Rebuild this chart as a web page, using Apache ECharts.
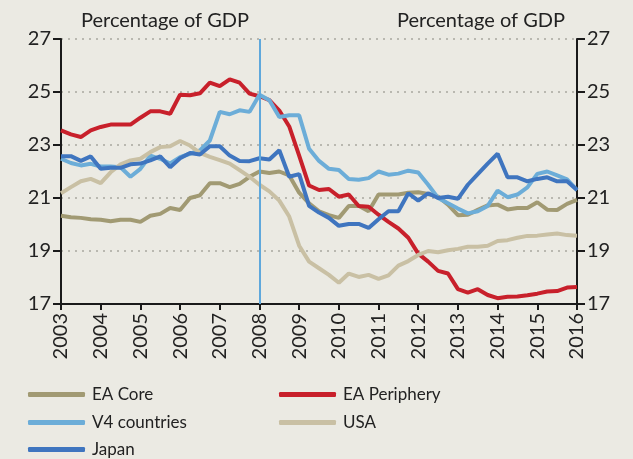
<!DOCTYPE html>
<html>
<head>
<meta charset="utf-8">
<style>
  html, body { margin: 0; padding: 0; background: #ebeae3; }
  #chart { width: 633px; height: 459px; }
</style>
<script src="https://cdn.jsdelivr.net/npm/echarts@6/dist/echarts.min.js"></script>
</head>
<body>
<div id="chart"></div>
<script>
// quarterly, 2003Q1 .. 2016Q1
const quarters = [
  "2003Q1","2003Q2","2003Q3","2003Q4","2004Q1","2004Q2","2004Q3","2004Q4",
  "2005Q1","2005Q2","2005Q3","2005Q4","2006Q1","2006Q2","2006Q3","2006Q4",
  "2007Q1","2007Q2","2007Q3","2007Q4","2008Q1","2008Q2","2008Q3","2008Q4",
  "2009Q1","2009Q2","2009Q3","2009Q4","2010Q1","2010Q2","2010Q3","2010Q4",
  "2011Q1","2011Q2","2011Q3","2011Q4","2012Q1","2012Q2","2012Q3","2012Q4",
  "2013Q1","2013Q2","2013Q3","2013Q4","2014Q1","2014Q2","2014Q3","2014Q4",
  "2015Q1","2015Q2","2015Q3","2015Q4","2016Q1"
];

const eaCore = [20.33,20.27,20.25,20.2,20.18,20.12,20.18,20.18,20.1,20.33,20.4,20.62,20.55,21.0,
  21.1,21.56,21.56,21.41,21.53,21.8,22.0,21.94,22.0,21.85,21.2,20.8,20.5,
  20.35,20.25,20.7,20.71,20.5,21.13,21.13,21.13,21.2,21.22,21.15,21.05,20.75,20.35,
  20.37,20.55,20.72,20.75,20.57,20.62,20.62,20.84,20.56,20.55,20.78,20.93];

const eaPeriphery = [23.55,23.4,23.3,23.55,23.68,23.77,23.77,23.77,24.03,24.27,24.27,24.18,24.9,24.88,
  24.95,25.35,25.22,25.48,25.35,24.94,24.84,24.69,24.3,23.7,22.6,21.47,21.3,
  21.34,21.05,21.13,20.7,20.67,20.37,20.1,19.85,19.5,18.9,18.6,18.25,18.15,17.56,
  17.43,17.56,17.34,17.22,17.27,17.28,17.33,17.39,17.47,17.49,17.62,17.64];

const v4 = [22.48,22.32,22.23,22.29,22.19,22.19,22.16,21.8,22.1,22.6,22.48,22.3,22.54,22.67,
  22.8,23.17,24.25,24.16,24.31,24.25,24.9,24.69,24.06,24.12,24.12,22.86,22.4,
  22.1,22.06,21.72,21.69,21.75,22.0,21.88,21.92,22.03,21.96,21.5,21.0,20.8,20.6,
  20.42,20.5,20.7,21.28,21.03,21.13,21.4,21.91,22.0,21.85,21.7,21.3];

const usa = [21.18,21.41,21.63,21.72,21.56,21.97,22.27,22.42,22.48,22.73,22.92,22.95,23.15,22.98,
  22.7,22.55,22.43,22.3,22.05,21.8,21.5,21.25,20.9,20.3,19.2,18.6,18.35,
  18.1,17.8,18.15,18.02,18.1,17.95,18.08,18.45,18.62,18.85,19.0,18.95,19.03,19.08,
  19.16,19.16,19.2,19.38,19.41,19.5,19.57,19.58,19.62,19.66,19.6,19.58];

const japan = [22.58,22.58,22.4,22.57,22.1,22.14,22.14,22.27,22.3,22.42,22.57,22.16,22.5,22.7,
  22.64,22.95,22.95,22.6,22.4,22.39,22.5,22.45,22.8,21.8,21.9,20.7,20.45,
  20.25,19.95,20.02,20.02,19.87,20.2,20.5,20.5,21.18,20.9,21.18,21.0,21.05,20.97,
  21.5,21.9,22.3,22.67,21.78,21.78,21.63,21.72,21.78,21.63,21.63,21.3];

const yTicks = [17, 19, 21, 23, 25, 27];
const markQuarter = "2008Q1";

const font = "Lato";
const textColor = "#222222";
const axisColor = "#1a1a1a";

function line(name, data, color) {
  return {
    name: name,
    type: "line",
    data: data,
    showSymbol: false,
    symbol: "none",
    lineStyle: { color: color, width: 4 },
    itemStyle: { color: color },
    animation: false,
  };
}

const series = [
  line("EA Core", eaCore, "#a19a73"),
  line("EA Periphery", eaPeriphery, "#c8202b"),
  line("V4 countries", v4, "#6cadd8"),
  line("USA", usa, "#c9c0a4"),
  line("Japan", japan, "#3f75bf"),
];
series[4].markLine = {
  silent: true,
  symbol: "none",
  label: { show: false },
  lineStyle: { color: "#5fa8dc", width: 2, type: "solid" },
  data: [{ xAxis: markQuarter }],
};

function yAxis(pos) {
  return {
    type: "value",
    position: pos,
    min: yTicks[0],
    max: yTicks[yTicks.length - 1],
    interval: 2,
    axisLine: { show: true, lineStyle: { color: axisColor, width: 2 } },
    axisTick: { show: true, length: 8, lineStyle: { color: axisColor, width: 2 } },
    axisLabel: { color: textColor, fontFamily: font, fontSize: 20, margin: 10 },
    splitLine: {
      show: pos === "left",
      lineStyle: { color: "#b9b8b0", width: 2, type: [2, 5] },
    },
  };
}

// one legend per entry so the two columns line up
function legendItem(name, left, top) {
  return {
    data: [name],
    left: left,
    top: top,
    itemWidth: 57,
    itemHeight: 5,
    icon: "roundRect",
    textStyle: { color: textColor, fontFamily: font, fontSize: 17, padding: [0, 0, 0, 2] },
  };
}

const option = {
  backgroundColor: "#ebeae3",
  animation: false,
  title: [
    { text: "Percentage of GDP", left: 76, top: 6,
      textStyle: { color: textColor, fontFamily: font, fontSize: 20, fontWeight: "normal" } },
    { text: "Percentage of GDP", left: 392, top: 6,
      textStyle: { color: textColor, fontFamily: font, fontSize: 20, fontWeight: "normal" } },
  ],
  grid: { left: 61, right: 56, top: 39, bottom: 155 },
  xAxis: {
    type: "category",
    data: quarters,
    boundaryGap: false,
    axisLine: { lineStyle: { color: axisColor, width: 2 } },
    axisTick: { interval: 3, length: 6, lineStyle: { color: axisColor, width: 2 } },
    axisLabel: {
      interval: 3,
      rotate: 90,
      margin: 9,
      color: textColor,
      fontFamily: font,
      fontSize: 20,
      formatter: (v) => v.slice(0, 4),
    },
    splitLine: { show: false },
  },
  yAxis: [yAxis("left"), yAxis("right")],
  legend: [
    legendItem("EA Core", 23, 381),
    legendItem("EA Periphery", 274, 381),
    legendItem("V4 countries", 23, 409),
    legendItem("USA", 274, 409),
    legendItem("Japan", 23, 436),
  ],
  series: series,
};

const chart = echarts.init(document.getElementById("chart"), null, { renderer: "canvas" });
chart.setOption(option);
</script>
</body>
</html>
